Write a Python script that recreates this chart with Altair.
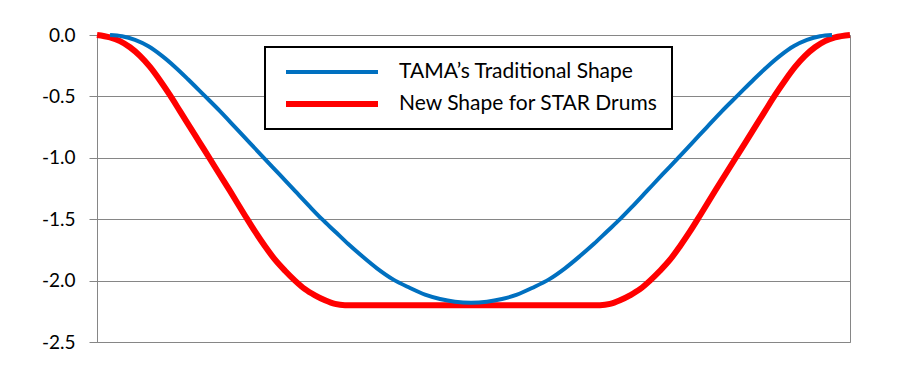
import altair as alt
import pandas as pd

# Position along the drum edge (0..100) and depth values
blue_name = "TAMA\u2019s Traditional Shape"
red_name = "New Shape for STAR Drums"

blue_x = [1.73, 3.32, 5.05, 6.77, 8.63, 10.36, 12.08, 14.21, 16.33, 18.33, 20.32, 22.31,
          24.30, 26.29, 28.29, 29.88, 31.61, 33.33, 35.19, 37.18, 39.31, 41.57, 43.56,
          45.55, 47.54, 49.67,
          51.79, 53.78, 55.78, 57.77, 60.03, 62.15, 64.14, 66.00, 67.73, 69.46, 71.05,
          73.04, 75.03, 77.03, 79.02, 81.01, 83.00, 85.13, 87.25, 88.98, 90.70, 92.56,
          94.29, 96.02, 97.61]
blue_y = [0.0, -0.01, -0.04, -0.09, -0.17, -0.26, -0.36, -0.49, -0.62, -0.75, -0.88, -1.01,
          -1.14, -1.27, -1.40, -1.50, -1.60, -1.70, -1.80, -1.90, -1.99, -2.06, -2.115,
          -2.15, -2.172, -2.18,
          -2.172, -2.15, -2.115, -2.06, -1.99, -1.90, -1.80, -1.70, -1.60, -1.50, -1.40,
          -1.27, -1.14, -1.01, -0.88, -0.75, -0.62, -0.49, -0.36, -0.26, -0.17, -0.09,
          -0.04, -0.01, 0.0]

red_x = [0.0, 1.73, 3.05, 4.38, 5.71, 7.04, 8.37, 9.69, 11.02, 12.35, 13.68, 15.01,
         16.33, 17.66, 19.65, 20.98, 22.31, 23.64, 24.97, 26.29, 27.62, 28.95, 30.28,
         31.61, 32.93,
         66.80, 68.13, 69.46, 70.78, 72.11, 73.44, 74.77, 76.10, 77.42, 78.75, 80.08,
         82.07, 83.40, 84.73, 86.06, 87.38, 88.71, 90.04, 91.37, 92.70, 94.02, 95.35,
         96.68, 98.01, 100.0]
red_y = [0.0, -0.02, -0.05, -0.10, -0.17, -0.26, -0.37, -0.49, -0.62, -0.75, -0.88, -1.01,
         -1.14, -1.27, -1.47, -1.60, -1.72, -1.83, -1.92, -2.00, -2.07, -2.12, -2.16,
         -2.19, -2.20,
         -2.20, -2.19, -2.16, -2.12, -2.07, -2.00, -1.92, -1.83, -1.72, -1.60, -1.47,
         -1.27, -1.14, -1.01, -0.88, -0.75, -0.62, -0.49, -0.37, -0.26, -0.17, -0.10,
         -0.05, -0.02, 0.0]

y_ticks = [0.0, -0.5, -1.0, -1.5, -2.0, -2.5]

FONT = "Lato"
GRID = "#868686"

blue_df = pd.DataFrame({"x": blue_x, "y": blue_y, "series": blue_name})
red_df = pd.DataFrame({"x": red_x, "y": red_y, "series": red_name})

xs = alt.X("x:Q", scale=alt.Scale(domain=[0, 100], nice=False, zero=False), axis=None)
ys = alt.Y(
    "y:Q",
    scale=alt.Scale(domain=[-2.5, 0], nice=False),
    axis=alt.Axis(
        values=y_ticks,
        labelExpr="(datum.value < 0 ? '-' : '') + format(abs(datum.value), '.1f')",
        title=None,
    ),
)

red_line = alt.Chart(red_df).mark_line(
    color="#FF0000", strokeWidth=6, interpolate="monotone", strokeCap="butt"
).encode(x=xs, y=ys)

blue_line = alt.Chart(blue_df).mark_line(
    color="#0070C0", strokeWidth=4, interpolate="monotone", strokeCap="butt"
).encode(x=xs, y=ys)

# Legend box (decoration, in pixel space of the plot area)
legend_df = pd.DataFrame({"series": [blue_name, red_name], "color": ["#0070C0", "#FF0000"]})

box = alt.Chart(legend_df.head(1)).mark_rect(
    fill="white", stroke="black", strokeWidth=2
).encode(x=alt.value(168), x2=alt.value(575), y=alt.value(12), y2=alt.value(94))

layers = [red_line, blue_line, box]
row_y = [37, 69]
row_w = [4, 6]
for i in range(2):
    sub = legend_df.iloc[[i]]
    layers.append(
        alt.Chart(sub).mark_rule(strokeWidth=row_w[i], color=legend_df["color"][i]).encode(
            x=alt.value(189), x2=alt.value(281), y=alt.value(row_y[i])
        )
    )
    layers.append(
        alt.Chart(sub).mark_text(
            align="left", baseline="middle", font=FONT, fontSize=21, color="black"
        ).encode(x=alt.value(302), y=alt.value(row_y[i]), text="series:N")
    )

chart = alt.layer(*layers).properties(
    width=753,
    height=307,
    autosize=alt.AutoSizeParams(type="none"),
    padding={"left": 89, "top": 27, "right": 30, "bottom": 20},
).configure_view(
    stroke=GRID, strokeWidth=1
).configure_axis(
    grid=True,
    gridColor=GRID,
    gridWidth=1,
    domainColor=GRID,
    domainWidth=1,
    tickColor=GRID,
    tickSize=8,
    tickWidth=1,
    labelFont=FONT,
    labelFontSize=19,
    labelColor="black",
    labelPadding=14,
)

chart.save("out.html", embed_options={"renderer": "svg", "actions": False})
